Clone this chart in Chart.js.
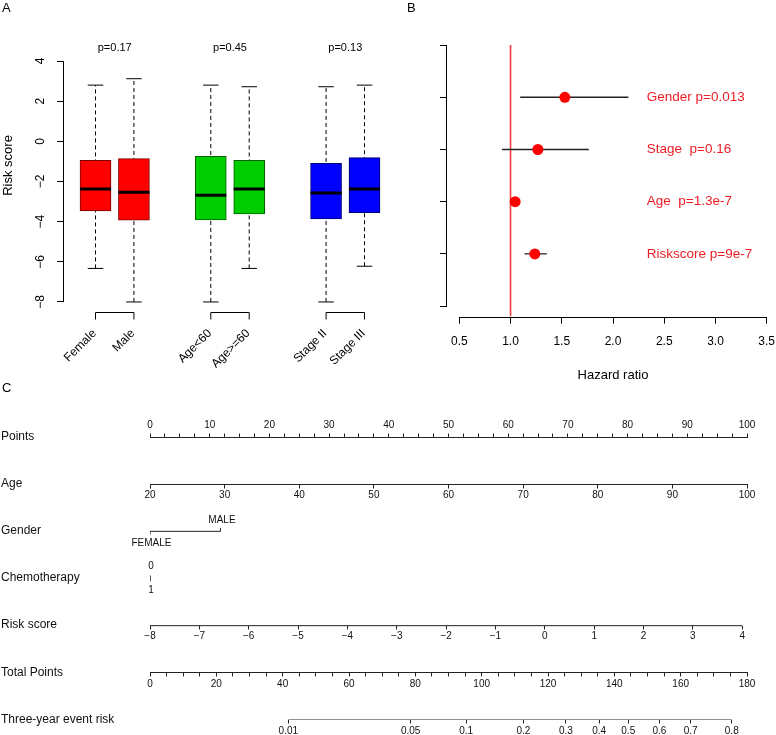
<!DOCTYPE html>
<html lang="en">
<head>
<meta charset="UTF-8">
<title>Risk score, hazard ratio and nomogram</title>
<script src="https://cdn.jsdelivr.net/npm/chart.js@4.4.1/dist/chart.umd.min.js"></script>
<style>
    html, body { margin: 0; padding: 0; background: #fff; overflow: hidden; }
    body { width: 776px; height: 735px; position: relative; }
    canvas { position: absolute; display: block; }
    #boxChart { left: 0; top: 0; }
    #forestChart { left: 400px; top: 0; }
    #nomoChart { left: 0; top: 380px; }
</style>
</head>
<body>
<canvas id="nomoChart" width="776" height="355"></canvas>
<canvas id="boxChart" width="400" height="380"></canvas>
<canvas id="forestChart" width="390" height="383"></canvas>

<script>
    //------------------------------------------ data --------------------------------------------------

    // A: risk score by group
    var boxLabels = ['Female', 'Male', 'Age<60', 'Age>=60', 'Stage II', 'Stage III'];
    var boxPos = [1, 2, 4, 5, 7, 8];
    var boxMin = [-6.33, -8.0, -8.0, -6.33, -8.0, -6.22];
    var boxQ1 = [-3.47, -3.93, -3.91, -3.62, -3.86, -3.55];
    var boxMed = [-2.37, -2.54, -2.69, -2.37, -2.57, -2.37];
    var boxQ3 = [-0.95, -0.86, -0.75, -0.95, -1.09, -0.81];
    var boxMax = [2.80, 3.12, 2.80, 2.72, 2.72, 2.80];
    var groupP = ['p=0.17', 'p=0.45', 'p=0.13'];
    var riskTicks = [-8, -6, -4, -2, 0, 2, 4];

    // B: hazard ratios
    var hrText = ['Gender p=0.013', 'Stage  p=0.16', 'Age  p=1.3e-7', 'Riskscore p=9e-7'];
    var hrValue = [1.53, 1.267, 1.045, 1.237];
    var hrLow = [1.094, 0.916, 1.03, 1.136];
    var hrHigh = [2.15, 1.764, 1.06, 1.354];
    var hrTicks = [0.5, 1.0, 1.5, 2.0, 2.5, 3.0, 3.5];
    var hrRef = 1;

    // C: nomogram
    var nomoRows = ['Points', 'Age', 'Gender', 'Chemotherapy', 'Risk score', 'Total Points', 'Three-year event risk'];
    var pointsLabels = [0, 10, 20, 30, 40, 50, 60, 70, 80, 90, 100];
    var ageTicks = [20, 30, 40, 50, 60, 70, 80, 90, 100];
    var genderLevels = ['FEMALE', 'MALE'];
    var genderPoints = [0, 11.8];
    var chemoLevels = ['0', '1'];
    var chemoPoints = [0, 0];
    var riskScoreTicks = [-8, -7, -6, -5, -4, -3, -2, -1, 0, 1, 2, 3, 4];
    var riskPointsAtMax = 99.2;
    var totalLabels = [0, 20, 40, 60, 80, 100, 120, 140, 160, 180];
    var eventRisk = ['0.01', '0.05', '0.1', '0.2', '0.3', '0.4', '0.5', '0.6', '0.7', '0.8'];
    var eventRiskTotal = [41.7, 78.6, 95.3, 112.6, 125.4, 135.4, 144.2, 153.6, 163.0, 175.4];

    //------------------------------------------ styles ------------------------------------------------

    var FONT = "'Liberation Sans', Arial, sans-serif";
    Chart.defaults.font.family = FONT;
    Chart.defaults.color = '#000';
    var boxFill = ['#FF0000', '#FF0000', '#00CD00', '#00CD00', '#0000FF', '#0000FF'];
    var boxEdge = ['#7A0000', '#7A0000', '#006000', '#006000', '#00006A', '#00006A'];
    var RED_TEXT = '#EE1C25';

    function minus(v) {
        return v < 0 ? '\u2212' + Math.abs(v) : String(v);
    }

    function tickList(values) {
        return values.map(function (v) { return {value: v}; });
    }

    //------------------------------------------ A: boxplot --------------------------------------------

    var whiskerData = [], capData = [];
    boxPos.forEach(function (p, i) {
        whiskerData.push({x: p, y: boxMin[i]}, {x: p, y: boxMax[i]}, {x: p, y: null});
        capData.push({x: p, y: boxMax[i]}, {x: p, y: boxMin[i]});
    });

    var boxDecor = {
        id: 'boxDecor',
        afterDraw: function (chart) {
            var ctx = chart.ctx, xs = chart.scales.x, ys = chart.scales.y, area = chart.chartArea;
            ctx.save();
            ctx.strokeStyle = '#000';
            ctx.fillStyle = '#000';
            ctx.lineWidth = 1;

            // y axis line, from first to last tick
            var ax = Math.round(area.left) - 0.5;
            ctx.beginPath();
            ctx.moveTo(ax, ys.getPixelForValue(riskTicks[0]));
            ctx.lineTo(ax, ys.getPixelForValue(riskTicks[riskTicks.length - 1]));
            ctx.stroke();

            // rotated tick labels
            ctx.font = '12px ' + FONT;
            ctx.textAlign = 'center';
            ctx.textBaseline = 'middle';
            riskTicks.forEach(function (v) {
                ctx.save();
                ctx.translate(41, ys.getPixelForValue(v));
                ctx.rotate(-Math.PI / 2);
                ctx.fillText(minus(v), 0, 0);
                ctx.restore();
            });

            // y title
            ctx.font = '13px ' + FONT;
            ctx.save();
            ctx.translate(8, ys.getPixelForValue(-1.2));
            ctx.rotate(-Math.PI / 2);
            ctx.fillText('Risk score', 0, 0);
            ctx.restore();

            // group axes with brackets, p values
            var by = Math.round(area.bottom) + 0.5;
            for (var g = 0; g < groupP.length; g++) {
                var x1 = xs.getPixelForValue(boxPos[2 * g]);
                var x2 = xs.getPixelForValue(boxPos[2 * g + 1]);
                ctx.beginPath();
                ctx.moveTo(x1, by + 7);
                ctx.lineTo(x1, by);
                ctx.lineTo(x2, by);
                ctx.lineTo(x2, by + 7);
                ctx.stroke();

                ctx.font = '11px ' + FONT;
                ctx.textAlign = 'center';
                ctx.fillText(groupP[g], (x1 + x2) / 2, ys.getPixelForValue(4.63));
            }

            ctx.font = '12px ' + FONT;
            ctx.textAlign = 'right';
            boxLabels.forEach(function (lab, i) {
                ctx.save();
                ctx.translate(xs.getPixelForValue(boxPos[i]) - 1, by + 19);
                ctx.rotate(-Math.PI / 4);
                ctx.fillText(lab, 0, 0);
                ctx.restore();
            });

            ctx.font = '13px ' + FONT;
            ctx.textAlign = 'left';
            ctx.fillText('A', 2, 8);
            ctx.restore();
        }
    };

    new Chart(document.getElementById('boxChart'), {
        type: 'bar',
        data: {
            datasets: [
                {
                    type: 'bar',
                    data: boxPos.map(function (p, i) { return {x: p, y: [boxQ1[i], boxQ3[i]]}; }),
                    backgroundColor: boxFill,
                    borderColor: boxEdge,
                    borderWidth: 1,
                    borderSkipped: false,
                    barThickness: 31,
                    order: 2
                },
                {
                    type: 'line',
                    data: whiskerData,
                    borderColor: '#000',
                    borderWidth: 1,
                    borderDash: [4, 3],
                    pointRadius: 0,
                    spanGaps: false,
                    order: 3
                },
                {
                    type: 'scatter',
                    data: capData,
                    pointStyle: 'line',
                    pointRadius: 7.75,
                    pointBorderColor: '#000',
                    pointBorderWidth: 1,
                    order: 1
                },
                {
                    type: 'scatter',
                    data: boxPos.map(function (p, i) { return {x: p, y: boxMed[i]}; }),
                    pointStyle: 'line',
                    pointRadius: 15.5,
                    pointBorderColor: '#000',
                    pointBorderWidth: 3,
                    order: 0
                }
            ]
        },
        options: {
            responsive: false,
            animation: false,
            events: [],
            layout: {autoPadding: false, padding: {left: 0, top: 51.4, right: 4, bottom: 68.4}},
            plugins: {legend: {display: false}, tooltip: {enabled: false}},
            scales: {
                x: {type: 'linear', min: 0.18, max: 8.82, offset: false, display: false},
                y: {
                    type: 'linear', min: -8.48, max: 4.48,
                    border: {display: false},
                    grid: {drawOnChartArea: false, drawTicks: true, tickLength: 7, color: '#000'},
                    ticks: {display: false},
                    afterBuildTicks: function (s) { s.ticks = tickList(riskTicks); },
                    afterFit: function (s) { s.width = 64; }
                }
            }
        },
        plugins: [boxDecor]
    });

    //------------------------------------------ B: hazard ratios --------------------------------------

    var ciData = [];
    hrValue.forEach(function (v, i) {
        ciData.push({x: hrLow[i], y: i + 1}, {x: hrHigh[i], y: i + 1}, {x: hrHigh[i], y: null});
    });

    var forestDecor = {
        id: 'forestDecor',
        afterDraw: function (chart) {
            var ctx = chart.ctx, xs = chart.scales.x, ys = chart.scales.y, area = chart.chartArea;
            ctx.save();
            ctx.strokeStyle = '#000';
            ctx.lineWidth = 1;
            var bx = Math.round(area.bottom) + 0.5;
            ctx.beginPath();
            ctx.moveTo(xs.getPixelForValue(hrTicks[0]), bx);
            ctx.lineTo(xs.getPixelForValue(hrTicks[hrTicks.length - 1]), bx);
            ctx.stroke();
            var lx = Math.round(area.left) - 0.5;
            ctx.beginPath();
            ctx.moveTo(lx, ys.getPixelForValue(0));
            ctx.lineTo(lx, ys.getPixelForValue(hrText.length + 1));
            ctx.stroke();

            ctx.fillStyle = RED_TEXT;
            ctx.font = '13.5px ' + FONT;
            ctx.textAlign = 'left';
            ctx.textBaseline = 'middle';
            hrText.forEach(function (t, i) {
                ctx.fillText(t, xs.getPixelForValue(2.33), ys.getPixelForValue(i + 1));
            });

            ctx.fillStyle = '#000';
            ctx.font = '13px ' + FONT;
            ctx.fillText('B', 7, 8);
            ctx.restore();
        }
    };

    new Chart(document.getElementById('forestChart'), {
        type: 'scatter',
        data: {
            datasets: [
                {
                    type: 'line',
                    data: [{x: hrRef, y: 0}, {x: hrRef, y: 5.2}],
                    borderColor: '#F23B3B',
                    borderWidth: 1.6,
                    pointRadius: 0,
                    order: 3
                },
                {
                    type: 'line',
                    data: ciData,
                    borderColor: '#222',
                    borderWidth: 1.3,
                    pointRadius: 0,
                    spanGaps: false,
                    order: 2
                },
                {
                    type: 'scatter',
                    data: hrValue.map(function (v, i) { return {x: v, y: i + 1}; }),
                    pointRadius: 5.5,
                    pointBackgroundColor: '#FF0000',
                    pointBorderWidth: 0,
                    order: 1
                }
            ]
        },
        options: {
            responsive: false,
            animation: false,
            events: [],
            layout: {autoPadding: false, padding: {left: 0, top: 34.6, right: 11, bottom: 0}},
            plugins: {legend: {display: false}, tooltip: {enabled: false}},
            scales: {
                x: {
                    type: 'linear', min: 0.38, max: 3.62,
                    border: {display: false},
                    grid: {drawOnChartArea: false, drawTicks: true, tickLength: 7, color: '#000'},
                    ticks: {
                        autoSkip: false, maxRotation: 0, padding: 11,
                        font: {size: 12},
                        callback: function (v) { return v.toFixed(1); }
                    },
                    title: {display: true, text: 'Hazard ratio', font: {size: 13}, padding: 0},
                    afterBuildTicks: function (s) { s.ticks = tickList(hrTicks); },
                    afterFit: function (s) { s.height = 383 - 316.6; }
                },
                y: {
                    type: 'linear', min: -0.2, max: 5.2, reverse: true,
                    border: {display: false},
                    grid: {drawOnChartArea: false, drawTicks: true, tickLength: 7, color: '#000'},
                    ticks: {display: false},
                    afterBuildTicks: function (s) { s.ticks = tickList([0, 1, 2, 3, 4, 5]); },
                    afterFit: function (s) { s.width = 47; }
                }
            }
        },
        plugins: [forestDecor]
    });

    //------------------------------------------ C: nomogram -------------------------------------------

    var tickFont = {family: FONT, size: 10};

    function rowAxis(row, min, max, ticks, label, showBorder) {
        return {
            type: 'linear', axis: 'x', position: {y: row},
            min: min, max: max,
            border: {display: showBorder, color: '#222'},
            grid: {drawOnChartArea: false, drawTicks: true, tickLength: 3.5, color: '#222'},
            ticks: {autoSkip: false, maxRotation: 0, minRotation: 0, padding: 1.5, color: '#111', font: tickFont, callback: label},
            afterBuildTicks: function (s) { s.ticks = tickList(ticks); }
        };
    }

    var pointsTicks = [];
    for (var p = 0; p <= 100; p += 2.5) pointsTicks.push(p);
    var totalTicks = [];
    for (var t = 0; t <= 180; t += 5) totalTicks.push(t);

    var riskAxisMax = riskScoreTicks[0] + (riskScoreTicks[riskScoreTicks.length - 1] - riskScoreTicks[0]) * 100 / riskPointsAtMax;

    var nomoDecor = {
        id: 'nomoDecor',
        afterDraw: function (chart) {
            var ctx = chart.ctx, xs = chart.scales.x, ys = chart.scales.y;
            ctx.save();
            ctx.fillStyle = '#111';
            ctx.textBaseline = 'middle';
            ctx.textAlign = 'left';
            ctx.font = '12px ' + FONT;
            nomoRows.forEach(function (name, i) {
                ctx.fillText(name, 1, ys.getPixelForValue(i) - 0.5);
            });

            ctx.font = '10px ' + FONT;
            ctx.textAlign = 'center';
            var gy = ys.getPixelForValue(2);
            ctx.fillText(genderLevels[0], xs.getPixelForValue(genderPoints[0]) + 1.5, gy + 11.5);
            ctx.fillText(genderLevels[1], xs.getPixelForValue(genderPoints[1]) + 1.5, gy - 11);
            var cy = ys.getPixelForValue(3);
            ctx.fillText(chemoLevels[0], xs.getPixelForValue(chemoPoints[0]) + 1, cy - 11.8);
            ctx.fillText(chemoLevels[1], xs.getPixelForValue(chemoPoints[1]) + 1, cy + 11.5);

            ctx.fillStyle = '#000';
            ctx.font = '13px ' + FONT;
            ctx.textAlign = 'left';
            ctx.fillText('C', 2, 8);
            ctx.restore();
        }
    };

    var rowD = 3.5 / 47.17;

    new Chart(document.getElementById('nomoChart'), {
        type: 'scatter',
        data: {
            datasets: [
                {
                    type: 'line', xAxisID: 'risk', yAxisID: 'y',
                    data: [{x: riskScoreTicks[0], y: 4}, {x: riskScoreTicks[riskScoreTicks.length - 1], y: 4}],
                    borderColor: '#222', borderWidth: 1, pointRadius: 0
                },
                {
                    type: 'line', xAxisID: 'event', yAxisID: 'y',
                    data: [{x: eventRiskTotal[0], y: 6}, {x: eventRiskTotal[eventRiskTotal.length - 1], y: 6}],
                    borderColor: '#222', borderWidth: 1, pointRadius: 0
                },
                {
                    type: 'line', xAxisID: 'x', yAxisID: 'y',
                    data: [
                        {x: genderPoints[0], y: 2 + rowD}, {x: genderPoints[0], y: 2},
                        {x: genderPoints[1], y: 2}, {x: genderPoints[1], y: 2 - rowD}
                    ],
                    borderColor: '#222', borderWidth: 1, pointRadius: 0
                },
                {
                    type: 'line', xAxisID: 'x', yAxisID: 'y',
                    data: [{x: chemoPoints[0], y: 3 - rowD * 0.8}, {x: chemoPoints[1], y: 3 + rowD * 0.8}],
                    borderColor: '#444', borderWidth: 1, pointRadius: 0
                }
            ]
        },
        options: {
            responsive: false,
            animation: false,
            events: [],
            layout: {autoPadding: false, padding: {left: 150, top: 0, right: 29, bottom: 15}},
            plugins: {legend: {display: false}, tooltip: {enabled: false}},
            scales: {
                x: {
                    type: 'linear', axis: 'x', position: 'top', min: 0, max: 100,
                    border: {display: true, color: '#222'},
                    grid: {drawOnChartArea: false, drawTicks: true, tickLength: 3.5, color: '#222'},
                    ticks: {
                        autoSkip: false, maxRotation: 0, minRotation: 0, padding: 1.8, color: '#111', font: tickFont,
                        callback: function (v) { return pointsLabels.indexOf(v) >= 0 ? String(v) : ''; }
                    },
                    afterBuildTicks: function (s) { s.ticks = tickList(pointsTicks); },
                    afterFit: function (s) { s.height = 57; }
                },
                y: {type: 'linear', axis: 'y', min: 0, max: 6, reverse: true, display: false},
                age: rowAxis(1, 20, 100, ageTicks, function (v) { return String(v); }, true),
                risk: rowAxis(4, riskScoreTicks[0], riskAxisMax, riskScoreTicks, function (v) { return minus(v); }, false),
                total: rowAxis(5, 0, 180, totalTicks, function (v) { return totalLabels.indexOf(v) >= 0 ? String(v) : ''; }, true),
                event: rowAxis(6, 0, 180, eventRiskTotal, function (v, i) { return eventRisk[i]; }, false)
            }
        },
        plugins: [nomoDecor]
    });
</script>
</body>
</html>
